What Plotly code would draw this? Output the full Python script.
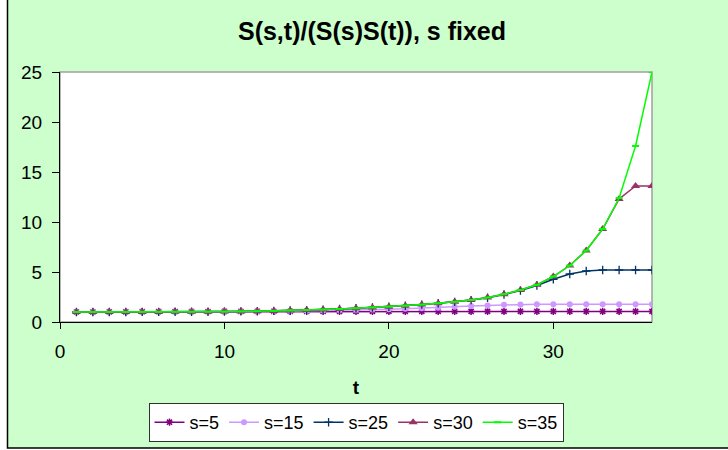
import plotly.graph_objects as go

t = list(range(1, 37))

s5 = [1.00, 1.00, 1.01, 1.02, 1.03, 1.04, 1.05, 1.05, 1.05, 1.06, 1.06, 1.06,
      1.06, 1.06, 1.06, 1.06, 1.06, 1.06, 1.06, 1.06, 1.06, 1.06, 1.06, 1.06,
      1.06, 1.06, 1.06, 1.06, 1.06, 1.06, 1.06, 1.06, 1.06, 1.06, 1.06, 1.06]
s15 = [1.00, 1.00, 1.00, 1.00, 1.00, 1.01, 1.01, 1.02, 1.02, 1.03, 1.04, 1.05,
       1.07, 1.09, 1.11, 1.14, 1.17, 1.20, 1.24, 1.28, 1.33, 1.38, 1.43, 1.52,
       1.60, 1.66, 1.72, 1.76, 1.78, 1.78, 1.78, 1.78, 1.78, 1.78, 1.78, 1.78]
s25 = [1.00, 1.00, 1.00, 1.00, 1.01, 1.01, 1.02, 1.02, 1.03, 1.04, 1.06, 1.08,
       1.11, 1.15, 1.19, 1.24, 1.30, 1.37, 1.45, 1.53, 1.63, 1.74, 1.87, 2.01,
       2.19, 2.43, 2.75, 3.15, 3.65, 4.27, 4.80, 5.10, 5.20, 5.20, 5.20, 5.20]
s30 = [1.00, 1.00, 1.00, 1.00, 1.01, 1.01, 1.02, 1.02, 1.03, 1.04, 1.06, 1.08,
       1.11, 1.15, 1.19, 1.24, 1.30, 1.37, 1.45, 1.53, 1.63, 1.74, 1.87, 2.02,
       2.20, 2.45, 2.78, 3.20, 3.72, 4.55, 5.65, 7.15, 9.30, 12.30, 13.60, 13.60]
s35 = [1.00, 1.00, 1.00, 1.00, 1.01, 1.01, 1.02, 1.02, 1.03, 1.04, 1.06, 1.08,
       1.11, 1.15, 1.19, 1.24, 1.30, 1.37, 1.45, 1.53, 1.63, 1.74, 1.87, 2.02,
       2.20, 2.45, 2.78, 3.20, 3.72, 4.55, 5.65, 7.15, 9.30, 12.40, 17.60, 25.00]

x_ticks = [0, 10, 20, 30]
y_ticks = [0, 5, 10, 15, 20, 25]

FONT = "Liberation Sans, Arial, sans-serif"

series = [
    ("s=5", s5, "#800080", dict(symbol="asterisk-open", size=6, line=dict(width=1.5, color="#800080"))),
    ("s=15", s15, "#CC99FF", dict(symbol="circle", size=6, color="#CC99FF")),
    ("s=25", s25, "#003366", dict(symbol="cross-thin-open", size=6, line=dict(width=1.3, color="#003366"))),
    ("s=30", s30, "#993366", dict(symbol="triangle-up", size=8, color="#993366")),
    ("s=35", s35, "#00FF00", dict(symbol="line-ew-open", size=5, line=dict(width=2, color="#00FF00"))),
]

fig = go.Figure()
for name, ys, col, mk in series:
    fig.add_trace(go.Scatter(x=t, y=ys, name=name, mode="lines+markers",
                             line=dict(color=col, width=1.5), marker=mk))

L, R, T, B = 60, 76, 72, 128
W, H = 728, 450
pw, ph = W - L - R, H - T - B

def px(xp):
    return (xp - L) / pw

def py(yp):
    return (H - B - yp) / ph

fig.update_layout(
    width=W, height=H,
    margin=dict(l=L, r=R, t=T, b=B, autoexpand=False),
    paper_bgcolor="white",
    plot_bgcolor="rgba(0,0,0,0)",
    font=dict(family=FONT, size=19, color="black"),
    title=dict(text="<b>S(s,t)/(S(s)S(t)), s fixed</b>", xref="container", x=372 / W,
               xanchor="center", y=1 - 31 / H, yanchor="middle", font=dict(size=25)),
    showlegend=True,
    legend=dict(orientation="h", x=px(356), xanchor="center", y=py(403), yanchor="top",
                bgcolor="white", bordercolor="#303030", borderwidth=1,
                font=dict(size=18), itemwidth=30, tracegroupgap=0),
    shapes=[
        dict(type="rect", xref="paper", yref="paper", layer="below",
             x0=px(7.5), x1=px(740), y0=py(448), y1=py(-10),
             fillcolor="#CCFFCC", line=dict(color="black", width=1.5)),
        dict(type="rect", xref="paper", yref="paper", layer="below",
             x0=0, x1=1, y0=0, y1=1,
             fillcolor="white", line=dict(color="#A0A0A0", width=1.5)),
    ],
)

fig.update_xaxes(range=[0, 36], tickvals=x_ticks, ticktext=[str(v) for v in x_ticks],
                 automargin=False,
                 showgrid=False, zeroline=False, showline=True, linecolor="black", linewidth=1,
                 ticks="outside", ticklen=6, tickcolor="black", ticklabelstandoff=6,
                 title=dict(text="<b>t</b>", font=dict(size=19), standoff=19))
fig.update_yaxes(range=[0, 25], tickvals=y_ticks, ticktext=[str(v) for v in y_ticks],
                 automargin=False,
                 showgrid=False, zeroline=False, showline=True, linecolor="black", linewidth=1,
                 ticks="outside", ticklen=7, tickcolor="black", ticklabelstandoff=6)

fig.write_html("out.html", config={"displayModeBar": False},
               post_script="document.body.style.margin='0px';")
